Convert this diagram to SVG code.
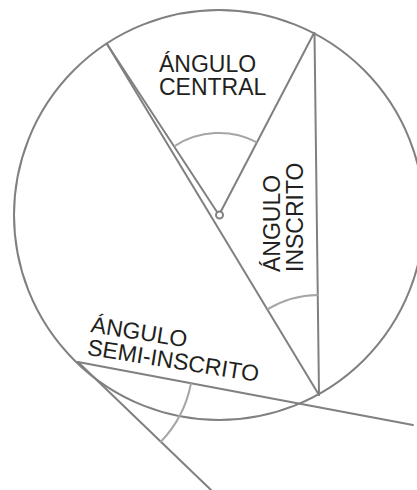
<svg xmlns="http://www.w3.org/2000/svg" width="417" height="490" viewBox="0 0 417 490">
<style>
.ln{fill:none;stroke:#808080;stroke-width:2;stroke-linecap:round}
.arc{fill:none;stroke:#a6a6a6;stroke-width:2}
.lb{font-family:"Liberation Sans",Arial,sans-serif;font-size:23px;fill:#231f20}
</style>
<rect width="417" height="490" fill="#fff"/>
<g id="circle">
<circle class="ln" cx="219" cy="215" r="205"/>
</g>
<g id="connectors">
<line class="ln" x1="107" y1="44" x2="219" y2="215"/>
<line class="ln" x1="219" y1="215" x2="314" y2="33"/>
<line class="ln" x1="107" y1="44" x2="319" y2="395"/>
<line class="ln" x1="314.5" y1="33" x2="319" y2="395"/>
<line class="ln" x1="78" y1="362" x2="413" y2="425"/>
<line class="ln" x1="78" y1="362" x2="211" y2="490"/>
</g>
<g id="central-angle">
<path class="arc" d="M174.1,146.4 A82,82 0 0 1 256.9,142.3"/>
<circle cx="219.5" cy="215" r="3.5" fill="#fff" stroke="#808080" stroke-width="2"/>
<text class="lb" x="159" y="72">ÁNGULO</text>
<text class="lb" x="159" y="95">CENTRAL</text>
</g>
<g id="inscribed-angle">
<path class="arc" d="M267.3,309.4 A100,100 0 0 1 317.8,295"/>
<g transform="translate(280,272) rotate(-90)">
<text class="lb" x="0" y="0">ÁNGULO</text>
<text class="lb" x="0" y="23">INSCRITO</text>
</g>
</g>
<g id="semi-inscribed-angle">
<path class="arc" d="M191,383.3 A115,115 0 0 1 160.6,442"/>
<g transform="translate(90,332) rotate(9)">
<text class="lb" x="0" y="0">ÁNGULO</text>
<text class="lb" x="0" y="23">SEMI-INSCRITO</text>
</g>
</g>
</svg>
